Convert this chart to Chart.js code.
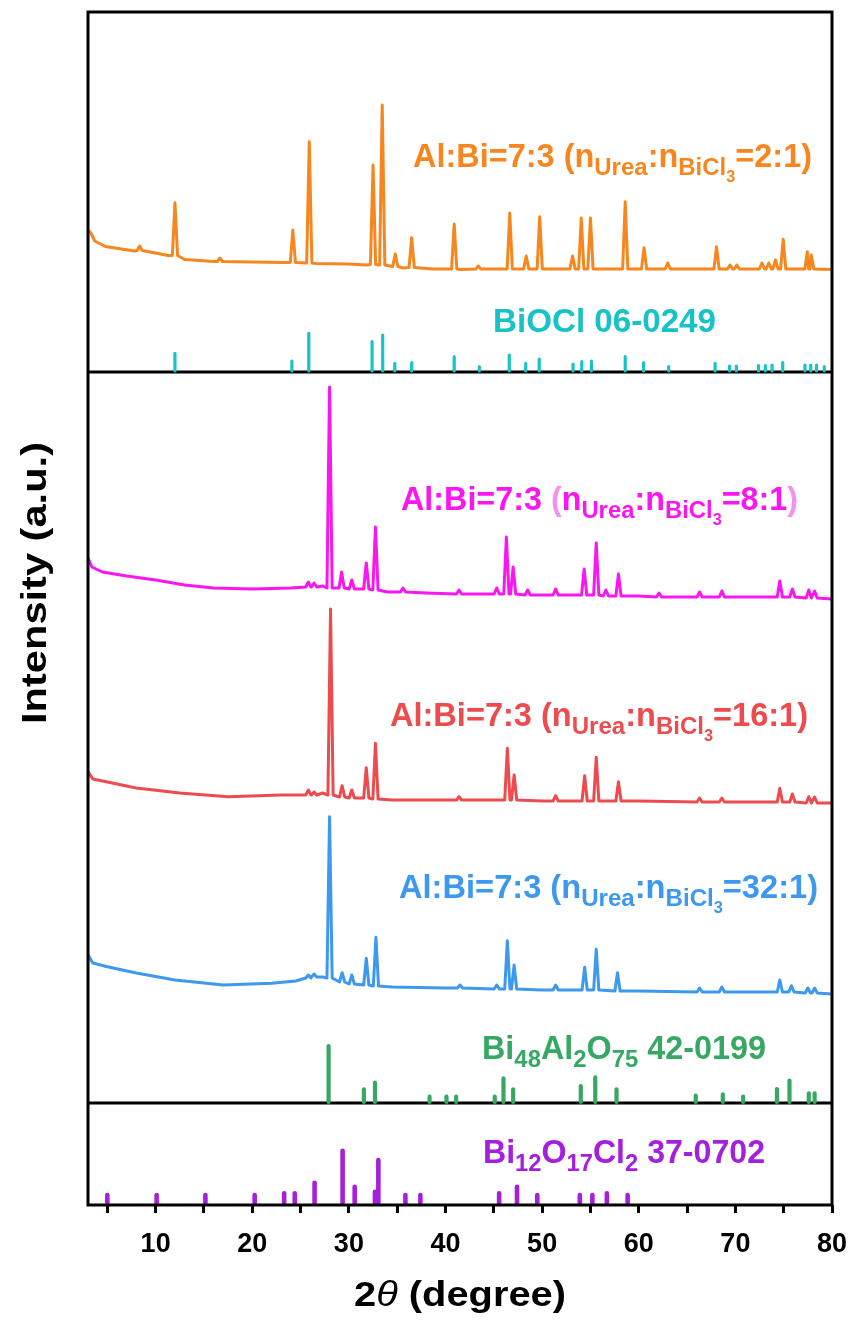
<!DOCTYPE html>
<html>
<head>
<meta charset="utf-8">
<script src="https://cdn.jsdelivr.net/npm/chart.js@4.4.1/dist/chart.umd.min.js"></script>
<style>
html,body{margin:0;padding:0;background:#ffffff;}
#wrap{width:853px;height:1320px;position:relative;}
</style>
</head>
<body>
<div id="wrap"><canvas id="c" width="853" height="1320"></canvas></div>
<script>
// ---------------- DATA (2θ in degrees, intensity in a.u.) ----------------
const xTickValues = [5,10,15,20,25,30,35,40,45,50,55,60,65,70,75,80];
const xTickLabels = ['', '10', '', '20', '', '30', '', '40', '', '50', '', '60', '', '70', '', '80'];

// Sample nUrea:nBiCl3 = 2:1 (orange)
const s2BgX   = [3.0, 3.3, 3.7, 4.8, 7.8, 11.3, 13.0, 16.0, 20.0, 23.3, 26.6, 30.0, 31.8, 35.6, 38.7, 41.5, 45.0, 52.0, 57.0, 62.0, 66.0, 71.5, 80.0];
const s2BgY   = [45, 42, 34, 28.5, 24, 19.5, 15.5, 13.5, 13, 12.5, 11.5, 11, 10, 7, 6, 5.5, 6, 6, 6, 6, 6, 6, 5.5];
const s2PeakX = [8.35, 12.0, 16.65, 24.2, 25.9, 32.5, 33.45, 34.8, 36.5, 40.9, 43.4, 46.65, 48.35, 49.75, 53.15, 54.05, 55.0, 58.6, 60.55, 63.0, 68.05, 69.45, 70.15, 72.75, 73.45, 74.15, 74.95, 77.45, 77.85];
const s2PeakTop  = [29, 72.3, 17, 45, 133.3, 110, 170, 21, 37.3, 51, 9, 62, 19, 58.3, 19, 57, 57, 73.3, 27.3, 12, 28.3, 10, 10, 12, 12, 15, 35.7, 23.3, 20];
const s2PeakBase = [24.5, 19.5, 13.5, 12.5, 12, 10.5, 10, 8.5, 7.5, 6, 6, 6, 6, 6, 6, 6, 6, 6, 6, 6, 6, 6, 6, 6, 6, 6, 6, 6, 6];

// Sample nUrea:nBiCl3 = 8:1 (magenta)
const s8BgX   = [3.0, 3.4, 4.5, 7.0, 10.0, 13.0, 16.0, 20.0, 24.0, 27.3, 34.0, 38.0, 44.0, 50.0, 53.0, 60.0, 65.0, 72.0, 80.0];
const s8BgY   = [47, 38, 33, 29, 25, 20, 17, 16, 17, 19, 13, 12, 11, 10, 10, 9, 8, 8, 6];
const s8PeakX = [25.8, 26.4, 28.0, 29.25, 30.3, 31.8, 32.75, 35.6, 41.4, 45.3, 46.3, 47.0, 48.5, 51.4, 54.35, 55.6, 56.6, 57.9, 62.1, 66.3, 68.6, 74.6, 75.9, 77.6, 78.2];
const s8PeakTop  = [23, 22, 218, 33, 25, 42, 78, 17, 15, 17, 68, 38, 15, 16, 36, 62, 15, 31, 12, 13, 14, 24, 16, 15, 14];
const s8PeakBase = [18, 18, 17, 17, 16, 16, 15, 13, 11, 11, 11, 11, 10, 10, 10, 10, 9, 9, 8, 8, 8, 8, 8, 7, 7];

// Sample nUrea:nBiCl3 = 16:1 (red)
const s16BgX   = [3.0, 3.5, 5.5, 8.0, 12.5, 17.5, 23.0, 27.3, 34.5, 40.0, 50.0, 60.0, 70.0, 80.0];
const s16BgY   = [38.3, 31, 27, 22, 17, 13.3, 15, 17, 10, 10, 9, 9, 8, 7];
const s16PeakX = [25.8, 26.4, 28.1, 29.3, 30.3, 31.8, 32.75, 41.4, 46.4, 47.1, 51.4, 54.4, 55.6, 57.9, 66.3, 68.6, 74.6, 75.9, 77.6, 78.2];
const s16PeakTop  = [20, 18, 201, 24.3, 20, 42.3, 66.7, 13.3, 61.7, 35, 14.3, 34.3, 52.7, 28.3, 12, 12, 21.7, 16, 13.3, 13];
const s16PeakBase = [15, 15, 15, 13, 12, 12, 11, 10, 10, 10, 9, 9, 9, 9, 8, 8, 8, 8, 7, 7];

// Sample nUrea:nBiCl3 = 32:1 (blue)
const s32BgX   = [3.0, 3.5, 5.0, 8.0, 12.0, 17.0, 22.0, 24.5, 27.3, 34.5, 40.0, 50.0, 60.0, 70.0, 80.0];
const s32BgY   = [45, 37, 33.3, 27, 20, 15, 16.7, 19, 23, 13, 12, 10, 9, 8, 6];
const s32PeakX = [25.8, 26.4, 28.0, 29.3, 30.3, 31.8, 32.8, 41.5, 45.3, 46.4, 47.1, 51.4, 54.4, 55.6, 57.8, 66.3, 68.6, 74.6, 75.8, 77.5, 78.2];
const s32PeakTop  = [25, 26, 183.3, 27.3, 25, 41.7, 62.7, 15, 15, 59.3, 35, 15, 32.7, 50.7, 27.3, 12, 13, 20, 14.3, 12, 12];
const s32PeakBase = [22, 23, 22, 18, 16, 15, 14, 12, 11, 11, 11, 10, 10, 10, 9, 8, 8, 8, 8, 7, 7];

// Reference BiOCl 06-0249
const biociX = [12.0, 24.1, 25.85, 32.4, 33.5, 34.75, 36.5, 40.9, 43.5, 46.6, 48.3, 49.7, 53.2, 54.1, 55.1, 58.6, 60.5, 63.1, 67.9, 69.4, 70.1, 72.4, 73.1, 73.8, 74.9, 77.2, 77.8, 78.4, 79.2];
const biociI = [17.7, 10, 37.7, 29.3, 36, 7.7, 8.3, 14.3, 4.3, 16, 7.7, 12, 7, 9.3, 10, 14.3, 8.3, 4.3, 7.7, 5, 5, 5.5, 5.5, 6, 8.3, 6, 6, 6, 4.3];

// Reference Bi48Al2O75 42-0199
const bialoX = [27.9, 31.55, 32.7, 38.35, 40.1, 41.1, 45.1, 46.0, 47.0, 54.0, 55.5, 57.7, 65.9, 68.7, 70.8, 74.3, 75.6, 77.6, 78.2];
const bialoI = [56, 12.7, 19.3, 5.3, 5.3, 5.3, 5.3, 23.7, 12.7, 16, 24.7, 12.7, 6.3, 7.7, 5.3, 13, 21.3, 8.7, 8.7];

// Reference Bi12O17Cl2 37-0702
const biocl2X = [5.0, 10.1, 15.15, 20.25, 23.3, 24.4, 26.45, 29.35, 30.6, 32.7, 33.05, 35.85, 37.4, 45.55, 47.4, 49.5, 53.9, 55.2, 56.7, 58.85];
const biocl2I = [8, 8, 8, 8, 9.7, 9.7, 20.3, 52.3, 16.3, 11.3, 43, 8, 8, 9.7, 16.3, 8, 8, 8, 9.7, 8];

// ---------------- LAYOUT / STYLE ----------------
const X_MIN = 3, X_MAX = 80, Y_MAX = 1193;
const OFFSETS = { s2: 930, s8: 600, s16: 395, s32: 205, biocl: 834, bialo: 103, biocl2: 2 };
const DIVIDERS = [833, 102];
const COL = { s2:'#F7861F', biocl:'#17C3C7', s8:'#FA16F0', s8paren:'#F590EE', s16:'#EE4B4E', s32:'#3D99EF', bialo:'#37A864', biocl2:'#A520DC' };
const FF = '"Liberation Sans", Arial, Helvetica, sans-serif';
const PEAK_HW = 0.27;

function buildCurve(bgX, bgY, pkX, pkTop, pkBase, off) {
  const pts = [];
  bgX.forEach((x, i) => {
    if (!pkX.some(p => Math.abs(p - x) < PEAK_HW + 0.05)) pts.push({x: x, y: bgY[i] + off});
  });
  pkX.forEach((p, i) => {
    pts.push({x: p - PEAK_HW, y: pkBase[i] + off});
    pts.push({x: p, y: pkTop[i] + off});
    pts.push({x: p + PEAK_HW, y: pkBase[i] + off});
  });
  pts.sort((a, b) => a.x - b.x);
  return pts;
}
function buildSticks(xs, hs, off) {
  const pts = [];
  xs.forEach((x, i) => { pts.push({x: x, y: off}, {x: x, y: off + hs[i]}, {x: x, y: null}); });
  return pts;
}
function curveDs(data, color) {
  return { data, borderColor: color, borderWidth: 3, pointRadius: 0, tension: 0, fill: false, spanGaps: false, borderJoinStyle: 'round' };
}
function stickDs(data, color, w) {
  return { data, borderColor: color, borderWidth: w, pointRadius: 0, tension: 0, fill: false, spanGaps: false, borderCapStyle: 'round' };
}
function lineDs(yv) {
  return { data: [{x: X_MIN, y: yv}, {x: X_MAX, y: yv}], borderColor: '#000', borderWidth: 3, pointRadius: 0, fill: false };
}

const LABELS = [
  { x: 413, base: 167, width: 399, size: 33, color: COL.s2,
    parts: [['Al:Bi=7:3 (n',0],['Urea',1],[':n',0],['BiCl',1],['3',2],['=2:1)',0]] },
  { x: 493, base: 332, width: 223, size: 33, color: COL.biocl, parts: [['BiOCl 06-0249',0]] },
  { x: 401, base: 510, width: 397, size: 33, color: COL.s8,
    parts: [['Al:Bi=7:3 ',0],['(',0,COL.s8paren],['n',0],['Urea',1],[':n',0],['BiCl',1],['3',2],['=8:1',0],[')',0,COL.s8paren]] },
  { x: 390, base: 726, width: 418, size: 33, color: COL.s16,
    parts: [['Al:Bi=7:3 (n',0],['Urea',1],[':n',0],['BiCl',1],['3',2],['=16:1)',0]] },
  { x: 399, base: 898, width: 419, size: 33, color: COL.s32,
    parts: [['Al:Bi=7:3 (n',0],['Urea',1],[':n',0],['BiCl',1],['3',2],['=32:1)',0]] },
  { x: 482, base: 1059, width: 284, size: 33, color: COL.bialo,
    parts: [['Bi',0],['48',1],['Al',0],['2',1],['O',0],['75',1],[' 42-0199',0]] },
  { x: 483, base: 1163, width: 282, size: 33, color: COL.biocl2,
    parts: [['Bi',0],['12',1],['O',0],['17',1],['Cl',0],['2',1],[' 37-0702',0]] }
];

function drawRich(ctx, L) {
  const S = L.size;
  const fonts = [`bold ${S}px ${FF}`, `bold ${(S*0.74).toFixed(1)}px ${FF}`, `bold ${(S*0.5).toFixed(1)}px ${FF}`];
  const dy = [0, S*0.25, S*0.45];
  let total = 0;
  L.parts.forEach(p => { ctx.font = fonts[p[1]]; total += ctx.measureText(p[0]).width; });
  const sx = L.width / total;
  ctx.save();
  ctx.translate(L.x, L.base);
  ctx.scale(sx, 1);
  ctx.textBaseline = 'alphabetic';
  ctx.textAlign = 'left';
  let cx = 0;
  L.parts.forEach(p => {
    ctx.font = fonts[p[1]];
    ctx.fillStyle = p[2] || L.color;
    ctx.fillText(p[0], cx, dy[p[1]]);
    cx += ctx.measureText(p[0]).width;
  });
  ctx.restore();
}

const decor = {
  id: 'decor',
  afterDatasetsDraw(chart) {
    const ctx = chart.ctx, a = chart.chartArea;
    ctx.save();
    ctx.strokeStyle = '#000';
    ctx.lineWidth = 3;
    ctx.strokeRect(a.left, a.top, a.right - a.left, a.bottom - a.top);
    ctx.restore();
  },
  afterDraw(chart) {
    const ctx = chart.ctx, a = chart.chartArea;
    LABELS.forEach(L => drawRich(ctx, L));
    // y title, fitted to its length in the reference
    ctx.save();
    ctx.translate(36, 583);
    ctx.rotate(-Math.PI / 2);
    ctx.font = `bold 35px ${FF}`;
    const yt = 'Intensity (a.u.)';
    const ysx = 282 / ctx.measureText(yt).width;
    ctx.scale(ysx, 1);
    ctx.fillStyle = '#000';
    ctx.textAlign = 'center';
    ctx.textBaseline = 'middle';
    ctx.fillText(yt, 0, 0);
    ctx.restore();
    // x title: 2θ (degree)
    ctx.save();
    ctx.fillStyle = '#000';
    ctx.textBaseline = 'alphabetic';
    const cxm = (a.left + a.right) / 2;
    const segs = [['2', `bold 35px ${FF}`], ['\u03B8', `italic 35px ${FF}`], [' (degree)', `bold 35px ${FF}`]];
    let tw = 0;
    segs.forEach(s => { ctx.font = s[1]; tw += ctx.measureText(s[0]).width; });
    const xsx = 212 / tw;
    ctx.translate(cxm - 106, 1306);
    ctx.scale(xsx, 1);
    let x0 = 0;
    segs.forEach(s => { ctx.font = s[1]; ctx.fillText(s[0], x0, 0); x0 += ctx.measureText(s[0]).width; });
    ctx.restore();
  }
};

const datasets = [
  curveDs(buildCurve(s2BgX, s2BgY, s2PeakX, s2PeakTop, s2PeakBase, OFFSETS.s2), COL.s2),
  stickDs(buildSticks(biociX, biociI, OFFSETS.biocl), COL.biocl, 3.2),
  curveDs(buildCurve(s8BgX, s8BgY, s8PeakX, s8PeakTop, s8PeakBase, OFFSETS.s8), COL.s8),
  curveDs(buildCurve(s16BgX, s16BgY, s16PeakX, s16PeakTop, s16PeakBase, OFFSETS.s16), COL.s16),
  curveDs(buildCurve(s32BgX, s32BgY, s32PeakX, s32PeakTop, s32PeakBase, OFFSETS.s32), COL.s32),
  stickDs(buildSticks(bialoX, bialoI, OFFSETS.bialo), COL.bialo, 4.2),
  stickDs(buildSticks(biocl2X, biocl2I, OFFSETS.biocl2), COL.biocl2, 4.6),
  lineDs(DIVIDERS[0]),
  lineDs(DIVIDERS[1])
];

new Chart(document.getElementById('c'), {
  type: 'line',
  data: { datasets },
  options: {
    responsive: false,
    animation: false,
    devicePixelRatio: 1,
    layout: { padding: { left: 88, right: 21, top: 12, bottom: 0 } },
    plugins: { legend: { display: false }, tooltip: { enabled: false }, title: { display: false } },
    scales: {
      x: {
        type: 'linear', min: X_MIN, max: X_MAX, position: 'bottom',
        afterBuildTicks: (s) => { s.ticks = xTickValues.map(v => ({ value: v })); },
        afterFit: (s) => { s.height = 115; s.paddingLeft = 0; s.paddingRight = 0; },
        ticks: {
          autoSkip: false, maxRotation: 0, minRotation: 0, padding: 15,
          color: '#000', font: { family: FF, size: 27, weight: 'bold' },
          callback: (v) => { const i = xTickValues.indexOf(v); return i >= 0 ? xTickLabels[i] : ''; }
        },
        grid: { display: true, drawOnChartArea: false, drawTicks: true, tickLength: 8, tickWidth: 3, tickColor: '#000', color: '#000' },
        border: { display: false }
      },
      y: { type: 'linear', min: 0, max: Y_MAX, display: false }
    }
  },
  plugins: [decor]
});
</script>
</body>
</html>
